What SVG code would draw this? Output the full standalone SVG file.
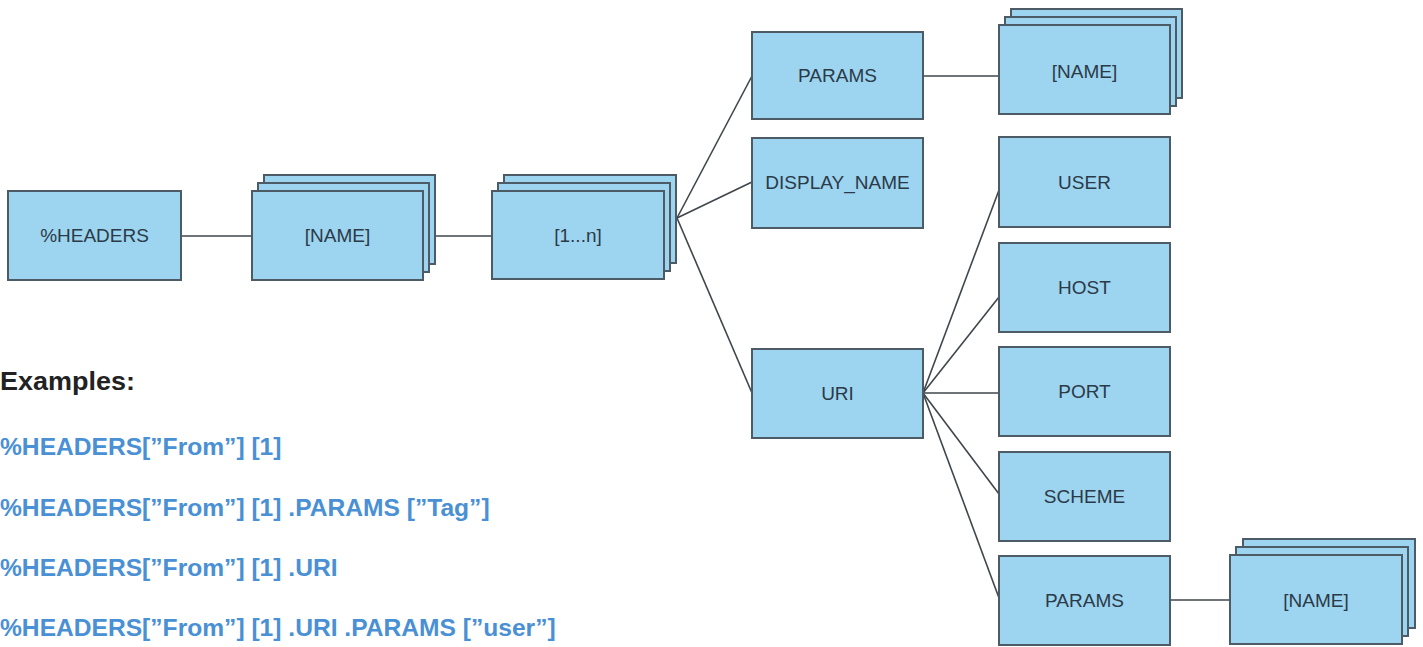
<svg xmlns="http://www.w3.org/2000/svg" width="1423" height="647" viewBox="0 0 1423 647">
<style>
.b{fill:#9dd4f0;stroke:#4d5b66;stroke-width:2}
.t{font-family:"Liberation Sans",Arial,sans-serif;font-size:19px;fill:#2b3a47;text-anchor:middle}
.c line{stroke:#3f464c;stroke-width:1.6}
.ex{font-family:"Liberation Sans",Arial,sans-serif;font-size:24.6px;font-weight:bold;fill:#4a90d4}
</style>
<rect width="1423" height="647" fill="#ffffff"/>
<g class="c" id="connectors">
<line x1="181" y1="236" x2="252" y2="236"/>
<line x1="430" y1="236" x2="492" y2="236"/>
<line x1="677" y1="218" x2="752" y2="76"/>
<line x1="677" y1="218" x2="752" y2="182"/>
<line x1="677" y1="218" x2="752" y2="393"/>
<line x1="923" y1="76" x2="999" y2="76"/>
<line x1="923" y1="393" x2="999" y2="190"/>
<line x1="923" y1="393" x2="999" y2="297"/>
<line x1="923" y1="393" x2="999" y2="393"/>
<line x1="923" y1="393" x2="999" y2="494"/>
<line x1="923" y1="393" x2="999" y2="598"/>
<line x1="1170" y1="600" x2="1230" y2="600"/>
</g>
<g id="headers"><rect class="b" x="8" y="191" width="173" height="89"/><text class="t" x="94.5" y="242">%HEADERS</text></g>
<g id="name1"><rect class="b" x="264" y="175" width="171" height="89"/><rect class="b" x="258" y="183" width="171" height="89"/><rect class="b" x="252" y="191" width="171" height="89"/><text class="t" x="337.5" y="242">[NAME]</text></g>
<g id="instances"><rect class="b" x="504" y="175" width="172" height="88"/><rect class="b" x="498" y="183" width="172" height="88"/><rect class="b" x="492" y="191" width="172" height="88"/><text class="t" x="578" y="242">[1...n]</text></g>
<g id="params1"><rect class="b" x="752" y="32" width="171" height="87"/><text class="t" x="837.5" y="82">PARAMS</text></g>
<g id="display"><rect class="b" x="752" y="138" width="171" height="90"/><text class="t" x="837.5" y="189">DISPLAY_NAME</text></g>
<g id="uri"><rect class="b" x="752" y="349" width="171" height="89"/><text class="t" x="837.5" y="400">URI</text></g>
<g id="name2"><rect class="b" x="1011" y="9" width="171" height="89"/><rect class="b" x="1005" y="17" width="171" height="89"/><rect class="b" x="999" y="25" width="171" height="89"/><text class="t" x="1084.5" y="78">[NAME]</text></g>
<g id="user"><rect class="b" x="999" y="137" width="171" height="90"/><text class="t" x="1084.5" y="189">USER</text></g>
<g id="host"><rect class="b" x="999" y="243" width="171" height="89"/><text class="t" x="1084.5" y="294">HOST</text></g>
<g id="port"><rect class="b" x="999" y="347" width="171" height="89"/><text class="t" x="1084.5" y="398">PORT</text></g>
<g id="scheme"><rect class="b" x="999" y="452" width="171" height="89"/><text class="t" x="1084.5" y="503">SCHEME</text></g>
<g id="params2"><rect class="b" x="999" y="556" width="171" height="89"/><text class="t" x="1084.5" y="607">PARAMS</text></g>
<g id="name3"><rect class="b" x="1243" y="539" width="172" height="89"/><rect class="b" x="1236" y="547" width="172" height="89"/><rect class="b" x="1230" y="555" width="172" height="89"/><text class="t" x="1316" y="607">[NAME]</text></g>
<g id="examples">
<text x="0" y="390" font-family="'Liberation Sans',Arial,sans-serif" font-size="25" font-weight="bold" fill="#222" textLength="135" lengthAdjust="spacingAndGlyphs">Examples:</text>
<text class="ex" x="0" y="455">%HEADERS[”From”] [1]</text>
<text class="ex" x="0" y="516">%HEADERS[”From”] [1] .PARAMS [”Tag”]</text>
<text class="ex" x="0" y="576">%HEADERS[”From”] [1] .URI</text>
<text class="ex" x="0" y="636">%HEADERS[”From”] [1] .URI .PARAMS [”user”]</text>
</g>
</svg>
